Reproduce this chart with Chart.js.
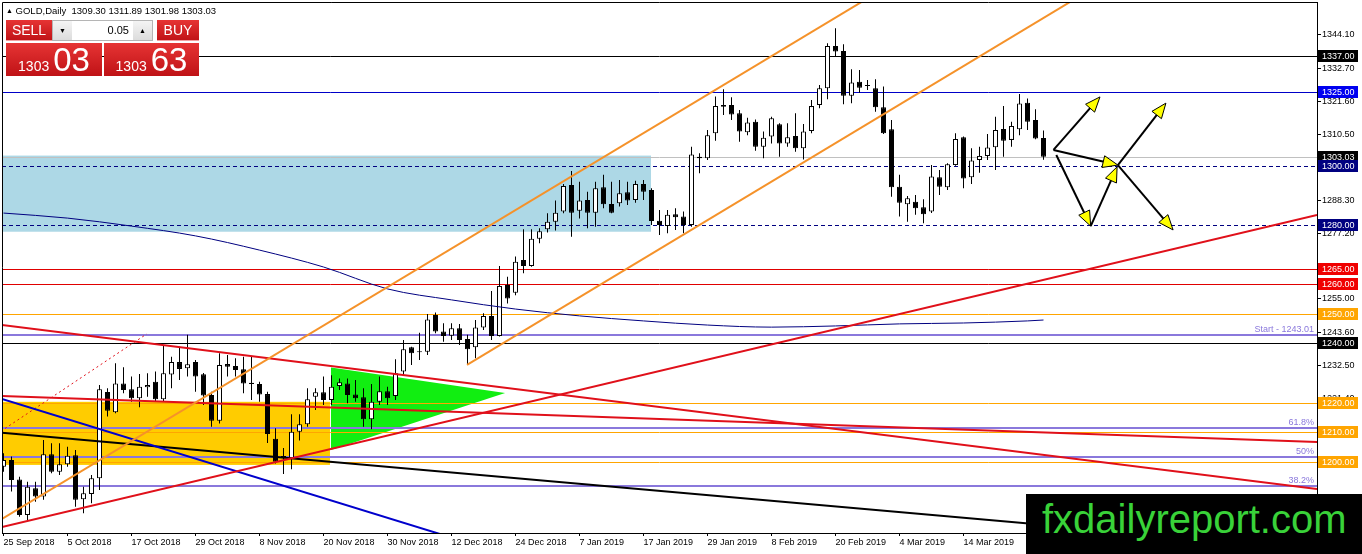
<!DOCTYPE html>
<html>
<head>
<meta charset="utf-8">
<title>GOLD,Daily</title>
<script src="https://cdn.jsdelivr.net/npm/chart.js@4.4.1/dist/chart.umd.min.js"></script>
<style>
html, body { margin: 0; padding: 0; background: #fff; }
#wrap { position: relative; width: 1362px; height: 554px; overflow: hidden; font-family: 'Liberation Sans', Arial, sans-serif; }
#box { position: absolute; left: 0; top: 0; width: 1362px; height: 554px; }
.abs { position: absolute; }
#hdr { left: 6px; top: 5px; font-size: 9.5px; line-height: 11px; white-space: pre; color: #000; }
#hdr .tri { font-size: 7px; position: relative; top: -1px; }
.red { background: linear-gradient(#e63434, #bf1216); color: #fff; }
.btn { top: 20px; height: 21px; font-family: 'Liberation Sans Narrow', 'Liberation Sans', Arial, sans-serif; font-size: 14px; line-height: 21px; text-align: center; box-shadow: inset 0 -1px 0 #f3a0a0; }
.price { top: 43px; height: 33px; display: flex; justify-content: center; align-items: baseline; font-family: 'Liberation Sans Narrow', 'Liberation Sans', Arial, sans-serif; white-space: nowrap; }
.price .s { font-size: 14px; line-height: 1; }
.price .b { font-size: 33px; line-height: 1; margin-left: 4px; }
#lot { left: 52px; top: 20px; width: 99px; height: 19px; border: 1px solid #b5b5b5; background: #fff; }
#lot .arr { position: absolute; top: 0; width: 19px; height: 19px; background: linear-gradient(#f4f4f4, #dcdcdc); font-size: 7px; line-height: 19px; text-align: center; color: #000; }
#lot .val { position: absolute; left: 20px; width: 56px; top: 0; height: 19px; line-height: 19px; font-size: 11px; text-align: right; color: #000; }
#mark { left: 1026px; top: 494px; width: 336px; height: 60px; background: #000; }
#mark span { position: absolute; left: 16px; top: 5px; font-size: 40px; line-height: 40px; color: #39d239; white-space: nowrap; }
</style>
</head>
<body>
<div id="wrap">
  <div id="box"><canvas id="gold-Chart"></canvas></div>
  <div id="hdr" class="abs"></div>
  <div class="abs btn red" style="left:6px;width:46px;">SELL</div>
  <div id="lot" class="abs"><div class="arr" style="left:0;">&#9660;</div><div class="val">0.05</div><div class="arr" style="right:0;">&#9650;</div></div>
  <div class="abs btn red" style="left:157px;width:42px;">BUY</div>
  <div class="abs price red" style="left:6px;width:96px;"><span class="s">1303</span><span class="b">03</span></div>
  <div class="abs price red" style="left:104px;width:95px;"><span class="s">1303</span><span class="b">63</span></div>
  <div id="mark" class="abs"><span>fxdailyreport.com</span></div>
</div>
<script>
// x axis: one label every 8 daily bars, bar 0 = 25 Sep 2018
const tickLabels = ['25 Sep 2018', '5 Oct 2018', '17 Oct 2018', '29 Oct 2018', '8 Nov 2018', '20 Nov 2018',
  '30 Nov 2018', '12 Dec 2018', '24 Dec 2018', '7 Jan 2019', '17 Jan 2019', '29 Jan 2019',
  '8 Feb 2019', '20 Feb 2019', '4 Mar 2019', '14 Mar 2019'];
const barsPerTick = 8;

const opens = [1198.4, 1200.7, 1194.1, 1182.1, 1191.1, 1188.3, 1202.6, 1196.7, 1199.2, 1202.3,
  1187.4, 1189.2, 1194.5, 1223.6, 1216.8, 1226.5, 1224.5, 1221.5, 1225.2, 1227.1,
  1221.2, 1229.5, 1233.7, 1231.6, 1233.7, 1229.6, 1222.6, 1213.9, 1233.1, 1232.4,
  1231.3, 1226.7, 1226.3, 1222.9, 1207.8, 1201.3, 1201.2, 1210.2, 1212.7, 1222.0,
  1223.5, 1220.9, 1225.6, 1226.5, 1222.8, 1221.8, 1214.4, 1220.3, 1223.9, 1222.3,
  1230.5, 1238.7, 1237.4, 1237.2, 1249.6, 1244.0, 1242.6, 1245.1, 1241.5, 1238.7,
  1245.4, 1249.3, 1242.5, 1259.7, 1257.1, 1268.2, 1266.1, 1275.3, 1278.5, 1281.1,
  1284.5, 1293.5, 1284.8, 1288.4, 1284.1, 1292.7, 1287.1, 1287.3, 1291.0, 1288.4,
  1293.8, 1291.8, 1281.4, 1279.6, 1283.6, 1282.8, 1280.0, 1303.0, 1302.5, 1310.9,
  1320.5, 1320.5, 1317.7, 1311.3, 1314.8, 1306.4, 1309.8, 1314.0, 1307.5, 1310.0,
  1305.9, 1311.7, 1320.5, 1326.1, 1340.4, 1338.7, 1323.6, 1328.3, 1327.0, 1326.1,
  1319.7, 1312.3, 1292.9, 1287.0, 1287.8, 1286.0, 1284.5, 1296.1, 1292.7, 1300.2,
  1309.6, 1296.1, 1301.9, 1303.3, 1306.2, 1312.4, 1308.7, 1312.3, 1321.2, 1315.4,
  1309.30];
const highs = [1202.9, 1201.8, 1195.0, 1193.3, 1193.3, 1207.4, 1206.3, 1206.3, 1205.1, 1204.0,
  1191.6, 1195.6, 1226.0, 1224.9, 1233.3, 1232.0, 1228.8, 1229.7, 1229.9, 1230.5,
  1239.5, 1235.5, 1238.9, 1242.9, 1234.4, 1230.0, 1223.7, 1236.7, 1236.1, 1235.0,
  1235.5, 1235.5, 1227.1, 1223.7, 1211.4, 1204.7, 1216.1, 1216.1, 1224.9, 1224.9,
  1228.8, 1229.3, 1228.2, 1228.2, 1227.7, 1224.9, 1226.3, 1228.8, 1225.4, 1234.7,
  1241.2, 1238.9, 1243.6, 1249.9, 1250.4, 1246.8, 1246.8, 1246.6, 1242.9, 1247.9,
  1250.2, 1257.7, 1266.1, 1262.5, 1269.3, 1278.5, 1278.5, 1278.9, 1283.9, 1288.2,
  1293.8, 1298.2, 1294.6, 1291.2, 1294.6, 1296.9, 1294.6, 1295.2, 1294.6, 1294.9,
  1295.2, 1292.4, 1285.0, 1285.0, 1285.6, 1284.5, 1306.4, 1304.2, 1312.0, 1323.3,
  1325.8, 1323.1, 1318.8, 1316.2, 1315.6, 1311.5, 1316.5, 1314.3, 1314.3, 1317.7,
  1314.1, 1322.2, 1327.2, 1341.3, 1346.4, 1341.0, 1332.5, 1332.3, 1328.9, 1329.2,
  1326.7, 1315.4, 1296.9, 1289.8, 1290.1, 1288.7, 1300.2, 1298.5, 1300.8, 1310.9,
  1309.8, 1305.9, 1306.4, 1310.7, 1316.5, 1320.1, 1314.8, 1324.2, 1322.7, 1319.0,
  1311.89];
const lows = [1196.7, 1190.0, 1181.5, 1180.4, 1186.6, 1187.2, 1196.2, 1195.6, 1198.4, 1184.9,
  1182.7, 1186.1, 1190.5, 1215.3, 1216.4, 1223.2, 1220.3, 1218.5, 1222.0, 1220.3,
  1220.3, 1224.9, 1227.7, 1228.8, 1223.7, 1219.2, 1211.9, 1213.0, 1228.8, 1228.8,
  1223.2, 1220.9, 1220.3, 1206.4, 1199.5, 1195.9, 1197.5, 1207.2, 1211.9, 1217.5,
  1219.2, 1219.2, 1224.3, 1219.8, 1220.3, 1211.9, 1211.0, 1219.2, 1219.2, 1220.9,
  1229.3, 1232.7, 1234.4, 1236.1, 1243.4, 1240.6, 1241.2, 1239.5, 1232.7, 1235.0,
  1244.5, 1241.2, 1242.3, 1253.5, 1256.3, 1263.7, 1265.9, 1273.8, 1277.4, 1278.1,
  1283.9, 1276.0, 1282.2, 1278.9, 1279.4, 1285.6, 1283.9, 1286.2, 1286.7, 1287.5,
  1288.4, 1280.0, 1276.6, 1277.2, 1278.3, 1277.2, 1279.4, 1297.4, 1301.9, 1308.4,
  1317.1, 1315.4, 1308.1, 1310.3, 1305.0, 1302.5, 1307.5, 1303.0, 1306.4, 1304.7,
  1302.1, 1310.9, 1319.4, 1322.4, 1336.8, 1320.7, 1321.1, 1324.6, 1325.5, 1318.2,
  1310.7, 1289.5, 1282.8, 1281.1, 1283.4, 1280.6, 1284.0, 1290.1, 1291.8, 1300.0,
  1292.4, 1293.8, 1297.6, 1301.9, 1298.5, 1303.0, 1306.4, 1310.3, 1312.0, 1308.9,
  1301.98];
const closes = [1200.7, 1193.9, 1182.1, 1191.6, 1188.3, 1202.6, 1196.7, 1199.2, 1202.1, 1187.2,
  1189.4, 1194.5, 1224.5, 1217.3, 1226.5, 1224.3, 1221.5, 1225.4, 1226.0, 1221.2,
  1229.9, 1233.7, 1231.4, 1233.0, 1228.8, 1222.4, 1213.9, 1232.7, 1232.1, 1231.0,
  1226.5, 1226.3, 1222.8, 1209.4, 1200.1, 1202.0, 1210.2, 1212.7, 1221.2, 1223.5,
  1220.9, 1225.4, 1226.9, 1222.6, 1221.5, 1214.4, 1220.3, 1223.9, 1221.5, 1229.9,
  1238.0, 1236.7, 1237.0, 1248.1, 1244.0, 1242.5, 1245.1, 1241.2, 1238.0, 1245.4,
  1249.3, 1242.5, 1259.4, 1255.2, 1267.6, 1266.1, 1275.3, 1277.9, 1281.1, 1284.1,
  1293.1, 1284.1, 1288.2, 1284.1, 1292.4, 1287.0, 1284.1, 1290.7, 1288.2, 1293.8,
  1291.2, 1281.3, 1280.0, 1283.4, 1282.6, 1280.0, 1303.8, 1302.5, 1310.3, 1320.1,
  1319.9, 1317.3, 1311.5, 1314.6, 1306.4, 1309.4, 1316.0, 1307.5, 1309.6, 1305.9,
  1311.5, 1320.1, 1326.1, 1340.4, 1338.5, 1323.6, 1328.1, 1326.3, 1326.9, 1319.7,
  1310.9, 1292.7, 1287.5, 1289.0, 1285.6, 1283.6, 1296.3, 1292.9, 1300.5, 1309.0,
  1295.7, 1301.7, 1303.3, 1306.1, 1312.0, 1308.4, 1313.4, 1321.0, 1314.8, 1309.2,
  1303.03];

const yTicks = [1344.10, 1332.70, 1321.60, 1310.50, 1299.40, 1288.30, 1277.20, 1266.10,
  1255.00, 1243.60, 1232.50, 1221.40, 1210.30, 1199.20, 1188.10];

// blue moving average, sampled every 8 bars
const maBars = [0, 8, 16, 24, 32, 40, 48, 56, 64, 72, 80, 88, 96, 104, 112, 120, 128, 130];
const maValues = [1284.0, 1282.3, 1279.6, 1276.3, 1271.5, 1265.8, 1258.4, 1254.7, 1251.6, 1249.3,
  1247.6, 1246.2, 1245.5, 1245.9, 1246.6, 1246.9, 1247.6, 1247.9];

// horizontal levels
const levelPrices = [1337, 1325, 1300, 1280, 1265, 1260, 1250, 1240, 1220, 1210, 1200];
const levelKinds = ['black', 'blue', 'navy', 'navy', 'red', 'red', 'orange', 'black', 'orange', 'orange', 'orange'];

const fibStart = 1243.01;
const fibEnd = 1160.4;
const fibRatios = [1, 0.618, 0.5, 0.382];
const fibLabels = ['Start - 1243.01', '61.8%', '50%', '38.2%'];

// trend lines: [bar1, price1, bar2, price2]
const trendLines = [
  [-0.19, 1180.75, 110, 1359.7],
  [57.94, 1232.73, 136, 1359.6],
  [-0.19, 1246.22, 164.19, 1190.87],
  [-0.19, 1222.26, 164.19, 1206.73],
  [-0.19, 1178.05, 164.19, 1283.35],
  [-0.19, 1221.25, 57.06, 1173.6],
  [-0.19, 1209.87, 164.19, 1170.62],
  [0.19, 1211.3, 17.9, 1243.2]
];
const trendKinds = ['orange', 'orange', 'red', 'red', 'red', 'blue', 'black', 'dots'];

// zones: [fromBar, toBar, low, high]
const blueZone = [-3, 80.94, 1277.7, 1303.4];
const goldZone = [-3, 40.81, 1199.0, 1220.3];
const greenWedge = [[40.94, 1231.9], [40.94, 1204.0], [62.7, 1223.3]];

// projected arrows: [fromBar, fromPrice, toBar, toPrice]
const arrows = [
  [131.25, 1305.3, 137.06, 1323.2],
  [131.25, 1305.3, 139.3, 1300.2],
  [131.6, 1303.6, 135.9, 1279.6],
  [135.9, 1279.6, 139.2, 1299.6],
  [139.3, 1300.2, 145.3, 1321.1],
  [139.3, 1300.2, 146.2, 1278.3]
];

const N = opens.length;
const bid = closes[N - 1];

document.getElementById('hdr').innerHTML = '<span class="tri">&#9650;</span> GOLD,Daily  ' +
  [opens[N - 1], highs[N - 1], lows[N - 1], closes[N - 1]].map(v => v.toFixed(2)).join(' ');

const colors = { black: '#000000', blue: '#0000c8', navy: '#000080', red: '#e00000', orange: '#ffa500', dots: '#e00000' };
const tagColors = { black: '#000000', blue: '#0000f0', navy: '#000080', red: '#f00000', orange: '#ffa500' };
const trendColors = { orange: '#f5922a', red: '#e0101a', blue: '#0000cc', black: '#000000', dots: '#e0101a' };

const wicks = opens.map((o, i) => ({ x: i, y: [lows[i], highs[i]] }));
const bodies = opens.map((o, i) => ({ x: i, y: [o, closes[i]] }));
const bodyFill = opens.map((o, i) => closes[i] >= o ? '#ffffff' : '#000000');

const lineSets = trendLines.map((t, k) => ({
  type: 'line',
  data: [{ x: t[0], y: t[1] }, { x: t[2], y: t[3] }],
  borderColor: trendColors[trendKinds[k]],
  borderWidth: trendKinds[k] === 'dots' ? 1 : 2,
  borderDash: trendKinds[k] === 'dots' ? [2, 3] : [],
  pointRadius: 0,
  fill: false
}));

function crisp(v) { return Math.round(v) + 0.5; }

const backdrop = {
  id: 'backdrop',
  beforeDatasetsDraw(chart) {
    const { ctx, chartArea: a, scales: { x, y } } = chart;
    ctx.save();
    ctx.beginPath();
    ctx.rect(a.left, a.top, a.right - a.left, a.bottom - a.top);
    ctx.clip();

    [[blueZone, '#add8e6'], [goldZone, '#ffcc00']].forEach(([z, c]) => {
      const x1 = x.getPixelForValue(z[0]), x2 = x.getPixelForValue(z[1]);
      const y1 = y.getPixelForValue(z[3]), y2 = y.getPixelForValue(z[2]);
      ctx.fillStyle = c;
      ctx.fillRect(x1, y1, x2 - x1, y2 - y1);
    });

    ctx.beginPath();
    greenWedge.forEach((p, k) => {
      const px = x.getPixelForValue(p[0]), py = y.getPixelForValue(p[1]);
      if (k === 0) ctx.moveTo(px, py); else ctx.lineTo(px, py);
    });
    ctx.closePath();
    ctx.fillStyle = '#11ee11';
    ctx.fill();

    // fibonacci levels
    ctx.font = '9px "Liberation Sans", Arial, sans-serif';
    ctx.textAlign = 'right';
    ctx.textBaseline = 'alphabetic';
    fibRatios.forEach((r, k) => {
      const v = fibEnd + r * (fibStart - fibEnd);
      const py = Math.round(y.getPixelForValue(v));
      ctx.fillStyle = '#8a78dc';
      ctx.fillRect(a.left, py - 1, a.right - a.left, 2);
      ctx.fillText(fibLabels[k], a.right - 3, py - 3);
    });

    // horizontal levels
    levelPrices.forEach((v, k) => {
      const py = crisp(y.getPixelForValue(v));
      ctx.strokeStyle = colors[levelKinds[k]];
      ctx.lineWidth = 1;
      ctx.setLineDash(levelKinds[k] === 'navy' ? [4, 3] : []);
      ctx.beginPath();
      ctx.moveTo(a.left, py);
      ctx.lineTo(a.right, py);
      ctx.stroke();
    });
    ctx.setLineDash([]);
    const pb = crisp(y.getPixelForValue(bid));
    ctx.strokeStyle = '#c0c0c0';
    ctx.beginPath();
    ctx.moveTo(a.left, pb);
    ctx.lineTo(a.right, pb);
    ctx.stroke();
    ctx.restore();
  }
};

function drawArrow(ctx, x1, y1, x2, y2) {
  const ang = Math.atan2(y2 - y1, x2 - x1);
  const len = 15, half = 6;
  const cs = Math.cos(ang), sn = Math.sin(ang);
  const bx = x2 - len * cs, by = y2 - len * sn;
  ctx.strokeStyle = '#000';
  ctx.lineWidth = 2;
  ctx.beginPath();
  ctx.moveTo(x1, y1);
  ctx.lineTo(bx + 4 * cs, by + 4 * sn);
  ctx.stroke();
  ctx.beginPath();
  ctx.moveTo(x2, y2);
  ctx.lineTo(bx + half * sn, by - half * cs);
  ctx.lineTo(bx - half * sn, by + half * cs);
  ctx.closePath();
  ctx.fillStyle = '#ffff00';
  ctx.fill();
  ctx.lineWidth = 1;
  ctx.stroke();
}

const overlay = {
  id: 'overlay',
  afterDatasetsDraw(chart) {
    const { ctx, chartArea: a, scales: { x, y } } = chart;
    ctx.save();
    arrows.forEach(r => drawArrow(ctx, x.getPixelForValue(r[0]), y.getPixelForValue(r[1]),
      x.getPixelForValue(r[2]), y.getPixelForValue(r[3])));
    // frame
    ctx.strokeStyle = '#000';
    ctx.lineWidth = 1;
    ctx.beginPath();
    ctx.moveTo(a.left + 0.5, a.bottom);
    ctx.lineTo(a.left + 0.5, a.top + 0.5);
    ctx.lineTo(a.right, a.top + 0.5);
    ctx.stroke();
    ctx.restore();
  },
  afterDraw(chart) {
    const { ctx, chartArea: a, scales: { y } } = chart;
    ctx.save();
    ctx.font = '9px "Liberation Sans", Arial, sans-serif';
    ctx.textAlign = 'left';
    ctx.textBaseline = 'middle';
    const tags = levelPrices.map((v, k) => [v, tagColors[levelKinds[k]]]);
    tags.splice(2, 0, [bid, '#000000']);
    tags.forEach(([v, c]) => {
      const py = Math.round(y.getPixelForValue(v));
      ctx.fillStyle = c;
      ctx.fillRect(a.right + 1, py - 6, 40, 12);
      ctx.fillStyle = '#ffffff';
      ctx.fillText(v.toFixed(2), a.right + 5, py + 0.5);
    });
    ctx.restore();
  }
};

Chart.defaults.font.family = '"Liberation Sans", Arial, sans-serif';
Chart.defaults.font.size = 9;
Chart.defaults.color = '#000';

const ctx = document.getElementById('gold-Chart').getContext('2d');
const goldChart = new Chart(ctx, {
  type: 'bar',
  data: {
    datasets: [
      ...lineSets,
      {
        type: 'line',
        data: maBars.map((b, k) => ({ x: b, y: maValues[k] })),
        borderColor: '#000080',
        borderWidth: 1,
        cubicInterpolationMode: 'monotone',
        pointRadius: 0,
        fill: false
      },
      {
        data: bodies,
        backgroundColor: bodyFill,
        borderColor: '#000',
        borderWidth: 1,
        borderSkipped: false,
        grouped: false,
        maxBarThickness: 5,
        minBarLength: 1,
        inflateAmount: 0
      },
      {
        data: wicks,
        backgroundColor: '#000',
        borderWidth: 0,
        grouped: false,
        maxBarThickness: 1,
        inflateAmount: 0
      }
    ]
  },
  options: {
    responsive: true,
    maintainAspectRatio: false,
    animation: false,
    events: [],
    layout: { padding: { left: 2, top: 2, right: 0, bottom: 0 } },
    plugins: { legend: { display: false }, tooltip: { enabled: false } },
    scales: {
      x: {
        type: 'linear',
        offset: false,
        min: -0.1875,
        max: 164.1875,
        grid: { offset: false, drawOnChartArea: false, drawTicks: true, tickLength: 3, color: '#000' },
        border: { display: true, color: '#000' },
        afterBuildTicks: s => { s.ticks = tickLabels.map((t, k) => ({ value: k * barsPerTick })); },
        afterFit: s => { s.height = 21; s.paddingLeft = 0; s.paddingRight = 0; },
        ticks: {
          autoSkip: false,
          maxRotation: 0,
          align: 'start',
          padding: 1,
          callback: v => tickLabels[Math.round(v / barsPerTick)] || ''
        }
      },
      y: {
        position: 'right',
        min: 1176.02,
        max: 1355.235,
        bounds: 'data',
        beginAtZero: false,
        grid: { drawOnChartArea: false, drawTicks: true, tickLength: 4, color: '#000' },
        border: { display: true, color: '#000' },
        afterBuildTicks: s => { s.ticks = yTicks.map(v => ({ value: v })); },
        afterFit: s => { s.width = 45; s.paddingTop = 0; s.paddingBottom = 0; },
        ticks: {
          autoSkip: false,
          padding: 1,
          callback: v => Number(v).toFixed(2)
        }
      }
    }
  },
  plugins: [backdrop, overlay]
});
</script>
</body>
</html>
